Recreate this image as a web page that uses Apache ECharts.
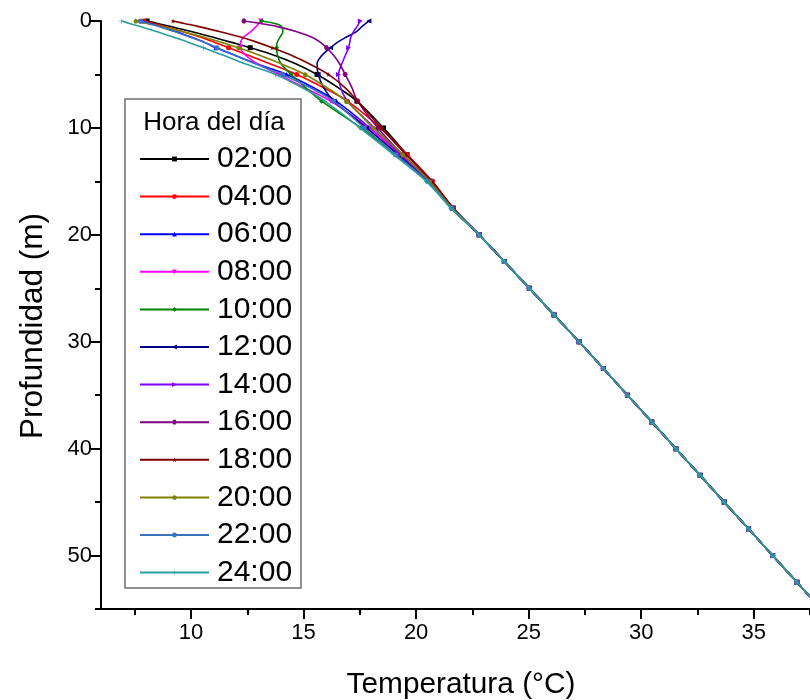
<!DOCTYPE html>
<html><head><meta charset="utf-8">
<script src="https://cdn.jsdelivr.net/npm/echarts@6/dist/echarts.min.js"></script>
<style>html,body{margin:0;padding:0;background:#fff}#c{width:810px;height:700px}</style>
</head><body><div id="c"></div>
<script>
// ---- data ----
const hours = ['02:00','04:00','06:00','08:00','10:00','12:00','14:00','16:00','18:00','20:00','22:00','24:00'];
const depthsTop = [0, 0.25, 0.5, 1, 1.5, 2, 2.5, 3.25, 4, 5, 6.25, 7.5, 10, 12.5, 15, 17.5];
const depthsDeep = [20, 22.5, 25, 27.5, 30, 32.5, 35, 37.5, 40, 42.5, 45, 47.5, 50, 52.5, 55];
const deepTemps = [22.80, 23.92, 25.03, 26.13, 27.24, 28.32, 29.39, 30.47, 31.54, 32.62, 33.69, 34.77, 35.84, 36.92, 37.99];
const t0200 = [8.05, 8.55, 9.05, 10.05, 10.95, 11.8, 12.63, 13.75, 14.65, 15.6, 16.55, 17.37, 18.55, 19.6, 20.7, 21.65];
const t0400 = [7.9, 8.35, 8.8, 9.65, 10.4, 11.05, 11.67, 12.6, 13.5, 14.7, 15.9, 16.95, 18.41, 19.59, 20.72, 21.65];
const t0600 = [7.8, 8.2, 8.6, 9.35, 10.0, 10.6, 11.1, 12.0, 12.9, 14.25, 15.45, 16.45, 17.95, 19.3, 20.6, 21.6];
const t0800 = [13.1, 13.0, 12.9, 12.65, 12.34, 12.2, 12.2, 12.45, 12.95, 13.9, 15.05, 16.2, 17.9, 19.3, 20.6, 21.6];
const t1000 = [13.15, 13.75, 14.02, 14.08, 13.95, 13.83, 13.8, 13.85, 14.0, 14.45, 15.1, 15.8, 17.55, 19.1, 20.5, 21.55];
const t1200 = [17.9, 17.75, 17.6, 17.35, 16.9, 16.5, 16.2, 15.8, 15.6, 15.65, 15.9, 16.35, 17.8, 19.2, 20.55, 21.6];
const t1400 = [17.52, 17.45, 17.38, 17.22, 17.1, 17.05, 17.0, 16.85, 16.7, 16.55, 16.65, 16.95, 18.15, 19.3, 20.6, 21.6];
const t1600 = [12.35, 13.15, 13.8, 14.7, 15.35, 15.75, 16.02, 16.35, 16.6, 16.85, 17.15, 17.4, 18.3, 19.4, 20.65, 21.6];
const t1800 = [9.2, 9.75, 10.3, 11.3, 12.2, 12.95, 13.6, 14.5, 15.25, 16.1, 16.85, 17.4, 18.45, 19.55, 20.7, 21.65];
const t2000 = [7.55, 8.1, 8.65, 9.65, 10.55, 11.35, 12.11, 13.1, 14.0, 15.07, 16.05, 16.9, 18.1, 19.4, 20.6, 21.6];
const t2200 = [7.75, 8.15, 8.55, 9.3, 9.95, 10.6, 11.15, 12.0, 12.85, 14.05, 15.3, 16.33, 17.7, 19.1, 20.5, 21.58];
const t2400 = [6.9, 7.3, 7.7, 8.5, 9.2, 9.9, 10.55, 11.5, 12.4, 13.75, 14.95, 15.95, 17.5, 19.0, 20.45, 21.55];
const xMajorTicks = [10, 15, 20, 25, 30, 35];
const xMinorTicks = [7.5, 12.5, 17.5, 22.5, 27.5, 32.5, 37.5];
const yMajorTicks = [0, 10, 20, 30, 40, 50];
const yMinorTicks = [5, 15, 25, 35, 45, 55];

// ---- style ----
const topSeries = [t0200, t0400, t0600, t0800, t1000, t1200, t1400, t1600, t1800, t2000, t2200, t2400];
const colors = ['#000000','#ff0000','#0000ff','#ff00ff','#008000','#000080','#8000ff','#800080','#800000','#808000','#3a72c0','#2a9d9d'];
const HEX = 'path://M2,0L6,0L8,3.46L6,6.93L2,6.93L0,3.46Z';
const STAR = 'path://M5,0L6.2,3.6L10,3.6L6.9,5.8L8.1,9.5L5,7.2L1.9,9.5L3.1,5.8L0,3.6L3.8,3.6Z';
const PENT = 'path://M5,0L10,3.6L8.1,9.5L1.9,9.5L0,3.6Z';
const PLUS = 'path://M4.4,0L5.6,0L5.6,4.4L10,4.4L10,5.6L5.6,5.6L5.6,10L4.4,10L4.4,5.6L0,5.6L0,4.4L4.4,4.4Z';
const symbols = ['rect','circle','triangle','triangle','diamond','triangle','triangle',HEX,STAR,PENT,'circle',PLUS];
const rotates = [0,0,0,180,0,90,-90,0,0,0,0,0];
const FONT = '"Liberation Sans", Arial, sans-serif';
const GRID = { left: 101, top: 21, right: 0, bottom: 91, containLabel: false };

const series = hours.map((h, k) => {
  const data = depthsTop.map((d, i) => [topSeries[k][i], d])
    .concat(depthsDeep.map((d, i) => [deepTemps[i], d]));
  return {
    type: 'line', name: h, data: data,
    xAxisIndex: 0, yAxisIndex: 0,
    smooth: 0.35, showAllSymbol: true, clip: true,
    symbol: symbols[k], symbolRotate: rotates[k],
    symbolSize: (v) => (v[1] % 2.5 === 0 ? 5 : 0),
    lineStyle: { width: 1.6, color: colors[k] },
    itemStyle: { color: colors[k] },
    emphasis: { disabled: true },
    z: 2 + k
  };
});

const chart = echarts.init(document.getElementById('c'), null, { renderer: 'canvas' });
chart.setOption({
  animation: false,
  backgroundColor: '#ffffff',
  grid: [GRID, Object.assign({}, GRID)],
  xAxis: [
    { gridIndex: 0, type: 'value', min: 6, max: 37.5, position: 'bottom',
      axisLine: { show: true, onZero: false, lineStyle: { color: '#000', width: 2 } },
      axisTick: { show: true, customValues: xMajorTicks, length: 10, lineStyle: { color: '#000', width: 2 } },
      axisLabel: { customValues: xMajorTicks, fontSize: 22, fontFamily: FONT, color: '#000', margin: 13 },
      splitLine: { show: false } },
    { gridIndex: 1, type: 'value', min: 6, max: 37.5, position: 'bottom',
      axisLine: { show: false, onZero: false },
      axisTick: { show: true, customValues: xMinorTicks, length: 6, lineStyle: { color: '#000', width: 2 } },
      axisLabel: { show: false },
      splitLine: { show: false } }
  ],
  yAxis: [
    { gridIndex: 0, type: 'value', min: 0, max: 55, inverse: true, position: 'left',
      axisLine: { show: true, onZero: false, lineStyle: { color: '#000', width: 2 } },
      axisTick: { show: true, customValues: yMajorTicks, length: 10, lineStyle: { color: '#000', width: 2 } },
      axisLabel: { customValues: yMajorTicks, fontSize: 22, fontFamily: FONT, color: '#000', margin: 9 },
      splitLine: { show: false } },
    { gridIndex: 1, type: 'value', min: 0, max: 55, inverse: true, position: 'left',
      axisLine: { show: false, onZero: false },
      axisTick: { show: true, customValues: yMinorTicks, length: 6, lineStyle: { color: '#000', width: 2 } },
      axisLabel: { show: false },
      splitLine: { show: false } }
  ],
  legend: {
    data: hours, orient: 'vertical', left: 139, top: 144, padding: 0,
    itemWidth: 69, itemHeight: 6, itemGap: 7.6, selectedMode: false,
    textStyle: { fontSize: 30, fontFamily: FONT, color: '#000', lineHeight: 30, padding: [0, 0, 0, 3] }
  },
  graphic: [
    { type: 'rect', shape: { x: 125, y: 99, width: 176, height: 489 },
      style: { fill: 'none', stroke: '#6e6e6e', lineWidth: 1.5 }, z: 1 },
    { type: 'text', x: 214, y: 123,
      style: { text: 'Hora del día', font: '26px ' + FONT, fill: '#000', align: 'center', verticalAlign: 'middle' } },
    { type: 'text', x: 461, y: 685,
      style: { text: 'Temperatura (°C)', font: '29.8px ' + FONT, fill: '#000', align: 'center', verticalAlign: 'middle' } },
    { type: 'text', x: 33, y: 326, rotation: Math.PI / 2,
      style: { text: 'Profundidad (m)', font: '31.5px ' + FONT, fill: '#000', align: 'center', verticalAlign: 'middle' } }
  ],
  series: series
});
</script></body></html>
